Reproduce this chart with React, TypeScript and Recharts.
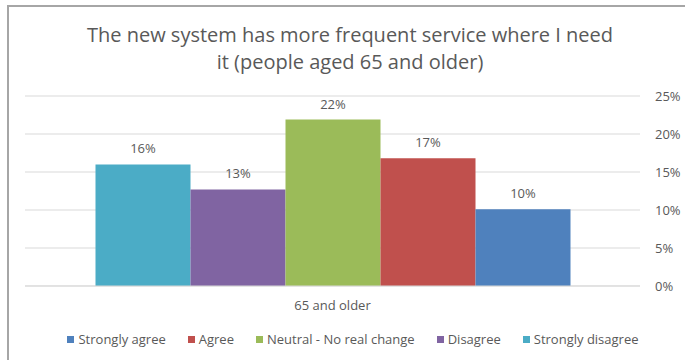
import { BarChart, Bar, XAxis, YAxis, CartesianGrid, Legend, LabelList } from 'recharts';

const CATEGORIES = ['65 and older'];

const SERIES_NAMES = [
  'Strongly agree',
  'Agree',
  'Neutral - No real change',
  'Disagree',
  'Strongly disagree',
];

// one value per category, same order as SERIES_NAMES
const SERIES_VALUES = [[0.101], [0.168], [0.219], [0.127], [0.16]];

const COLORS = ['#4F81BD', '#C0504D', '#9BBB59', '#8064A2', '#4BACC6'];

const Y_TICKS = [0, 0.05, 0.1, 0.15, 0.2, 0.25];

const TITLE_LINES = [
  'The new system has more frequent service where I need',
  'it (people aged 65 and older)',
];

const FONT = '"Open Sans", Calibri, sans-serif';
const TEXT = '#595959';

const data = CATEGORIES.map((cat, i) => {
  const row: Record<string, string | number> = { category: cat };
  SERIES_NAMES.forEach((name, s) => {
    row[name] = SERIES_VALUES[s][i];
  });
  return row;
});

const pct = (v: number) => `${Math.round(v * 100)}%`;

// Excel draws the series in reverse order inside the group
const barOrder = SERIES_NAMES.map((_, i) => i).reverse();

function LegendContent() {
  return (
    <div
      style={{
        display: 'flex',
        justifyContent: 'center',
        alignItems: 'center',
        fontFamily: FONT,
        fontSize: 13,
        color: TEXT,
        whiteSpace: 'nowrap',
      }}
    >
      {SERIES_NAMES.map((name, i) => (
        <div key={name} style={{ display: 'flex', alignItems: 'center', marginRight: i < SERIES_NAMES.length - 1 ? 22 : 0 }}>
          <span style={{ width: 7, height: 7, background: COLORS[i], marginRight: 4, display: 'inline-block' }} />
          <span>{name}</span>
        </div>
      ))}
    </div>
  );
}

export default function App() {
  return (
    <div
      style={{
        position: 'fixed',
        left: 0,
        top: 0,
        width: 685,
        height: 360,
        overflow: 'hidden',
        background: '#fff',
        fontFamily: FONT,
      }}
    >
      <div
        style={{
          position: 'absolute',
          left: 7,
          top: 5,
          width: 720,
          height: 400,
          border: '2px solid #A6A6A6',
          boxSizing: 'border-box',
        }}
      />
      <div
        style={{
          position: 'absolute',
          left: 0,
          top: 21,
          width: 700,
          textAlign: 'center',
          fontSize: 20,
          lineHeight: '27px',
          color: TEXT,
        }}
      >
        {TITLE_LINES.map((t) => (
          <div key={t}>{t}</div>
        ))}
      </div>
      <div style={{ position: 'absolute', left: 0, top: 0 }}>
        <BarChart
          width={685}
          height={360}
          data={data}
          margin={{ top: 96, right: 0, bottom: 44, left: 25 }}
          barGap={0}
          barCategoryGap={70.5}
        >
          <CartesianGrid vertical={false} stroke="#D9D9D9" />
          <XAxis
            dataKey="category"
            height={30}
            tickSize={0}
            tickMargin={15}
            axisLine={{ stroke: '#D9D9D9' }}
            tick={{ fill: TEXT, fontSize: 13, fontFamily: FONT }}
          />
          <YAxis
            orientation="right"
            width={45}
            domain={[0, 0.25]}
            ticks={Y_TICKS}
            tickFormatter={pct}
            axisLine={false}
            tickSize={0}
            tickMargin={15}
            tick={{ fill: TEXT, fontSize: 13, fontFamily: FONT, textAnchor: 'start' }}
          />
          <Legend
            layout="horizontal"
            verticalAlign="middle"
            align="center"
            content={() => <LegendContent />}
            wrapperStyle={{ top: 330, left: 20, width: 666 }}
          />
          {barOrder.map((i) => (
            <Bar key={SERIES_NAMES[i]} dataKey={SERIES_NAMES[i]} fill={COLORS[i]} isAnimationActive={false}>
              <LabelList
                dataKey={SERIES_NAMES[i]}
                position="top"
                offset={11}
                formatter={(v: number) => pct(v)}
                style={{ fill: TEXT, fontSize: 13, fontFamily: FONT }}
              />
            </Bar>
          ))}
        </BarChart>
      </div>
    </div>
  );
}
